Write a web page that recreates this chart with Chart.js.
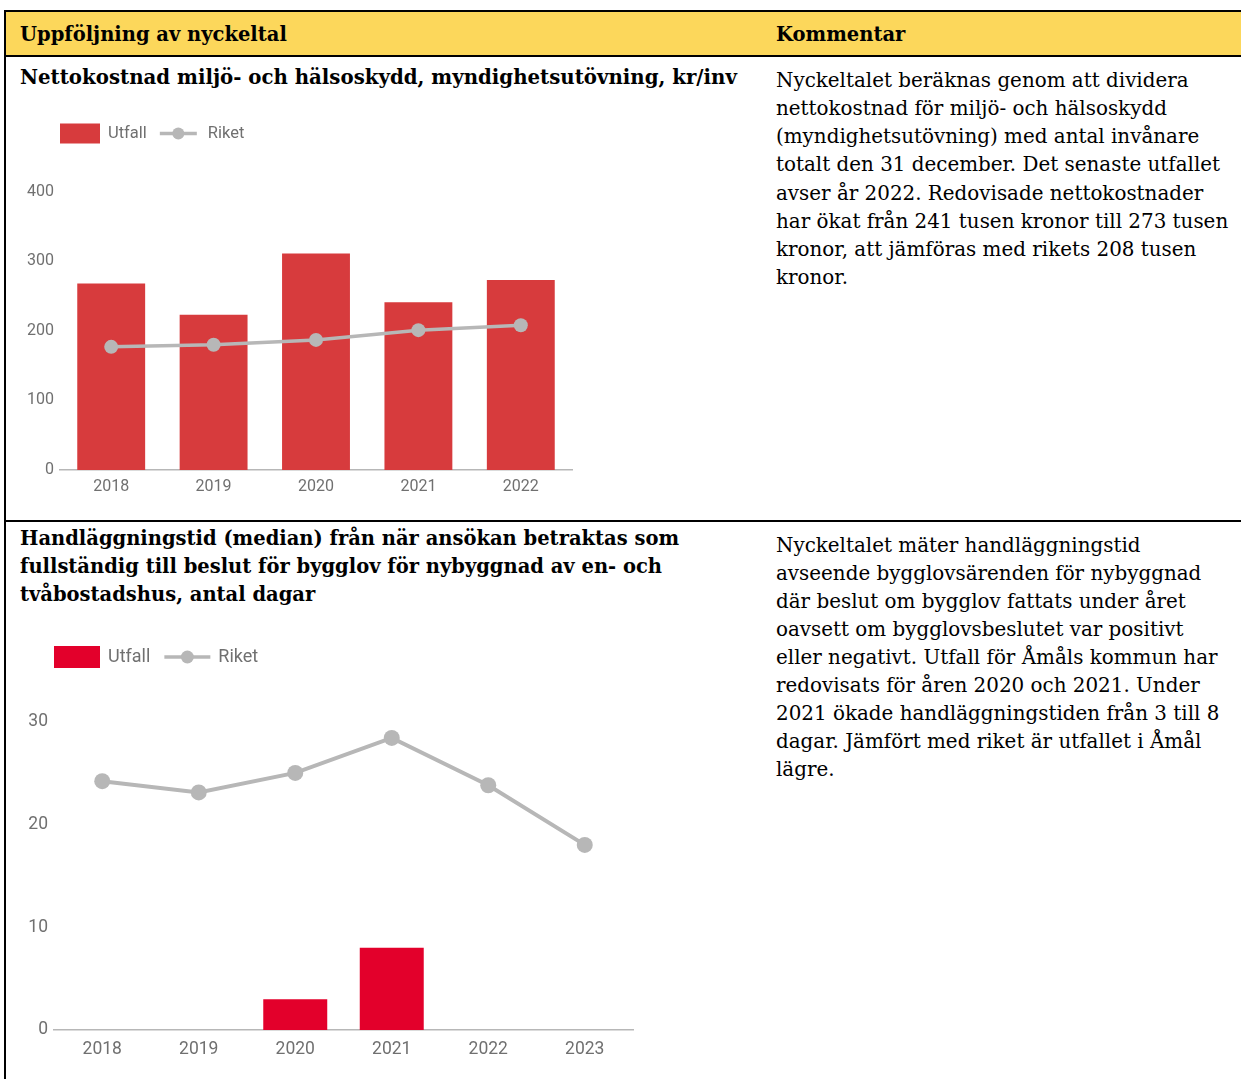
<!DOCTYPE html>
<html lang="sv">
<head>
<meta charset="utf-8">
<title>Uppföljning av nyckeltal</title>
<script src="https://cdn.jsdelivr.net/npm/chart.js@4/dist/chart.umd.min.js"></script>
<style>
  html, body { margin: 0; padding: 0; background: #fff; }
  body { position: relative; width: 1241px; height: 1079px; overflow: hidden;
         font-family: "DejaVu Serif", serif; color: #000; }
  .rule { position: absolute; background: #000; z-index: 2; }
  .head { position: absolute; left: 6px; top: 12px; width: 1235px; height: 43px; background: #fcd75b; }
  .txt { position: absolute; white-space: nowrap; font-size: 19.9px; line-height: 28.2px; z-index: 3; }
  .b { font-weight: bold; font-size: 19.5px; }
  canvas { position: absolute; left: 0; z-index: 1; }
</style>
</head>
<body>
<div class="head"></div>
<div class="rule" style="left:4px; top:10px; width:1237px; height:2px"></div>
<div class="rule" style="left:4px; top:10px; width:2px; height:1069px"></div>
<div class="rule" style="left:4px; top:55px; width:1237px; height:2px"></div>
<div class="rule" style="left:4px; top:520px; width:1237px; height:2px"></div>

<div class="txt b" style="left:20px; top:21px">Uppföljning av nyckeltal</div>
<div class="txt b" style="left:776px; top:21px">Kommentar</div>

<div class="txt b" style="left:20px; top:62.5px; font-size:19.75px">Nettokostnad miljö- och hälsoskydd, myndighetsutövning, kr/inv</div>
<div class="txt" style="left:776px; top:66.7px">Nyckeltalet beräknas genom att dividera<br>nettokostnad för miljö- och hälsoskydd<br>(myndighetsutövning) med antal invånare<br>totalt den 31 december. Det senaste utfallet<br>avser år 2022. Redovisade nettokostnader<br>har ökat från 241 tusen kronor till 273 tusen<br>kronor, att jämföras med rikets 208 tusen<br>kronor.</div>

<div class="txt b" style="left:20px; top:525px">Handläggningstid (median) från när ansökan betraktas som<br>fullständig till beslut för bygglov för nybyggnad av en- och<br>tvåbostadshus, antal dagar</div>
<div class="txt" style="left:776px; top:531.8px; line-height:28.05px">Nyckeltalet mäter handläggningstid<br>avseende bygglovsärenden för nybyggnad<br>där beslut om bygglov fattats under året<br>oavsett om bygglovsbeslutet var positivt<br>eller negativt. Utfall för Åmåls kommun har<br>redovisats för åren 2020 och 2021. Under<br>2021 ökade handläggningstiden från 3 till 8<br>dagar. Jämfört med riket är utfallet i Åmål<br>lägre.</div>

<canvas id="chart1" width="600" height="410" style="top:100px"></canvas>
<canvas id="chart2" width="660" height="459" style="top:620px"></canvas>

<script>
// Nettokostnad miljö- och hälsoskydd, kr/inv
const years1 = ['2018', '2019', '2020', '2021', '2022'];
const utfall1 = [268, 223, 311, 241, 273];
const riket1 = [177, 180, 187, 201, 208];
const yTicks1 = [0, 100, 200, 300, 400];

// Handläggningstid bygglov, antal dagar
const years2 = ['2018', '2019', '2020', '2021', '2022', '2023'];
const utfall2 = [null, null, 3, 8, null, null];
const riket2 = [24.2, 23.1, 25.0, 28.4, 23.8, 18.0];
const yTicks2 = [0, 10, 20, 30];

const GREY_TEXT = '#707070';
const GREY_LINE = '#b7b7b7';

Chart.defaults.font.family = 'Roboto';
Chart.defaults.color = GREY_TEXT;

// legend: red box + "Utfall", line-with-dot + "Riket", starting at the plot's left edge
const boxLegend = {
  id: 'boxLegend',
  afterDraw(chart, args, o) {
    const { ctx, chartArea } = chart;
    const [bars, line] = chart.data.datasets;
    let x = chartArea.left;
    const y = o.y;
    ctx.save();
    ctx.font = o.fontSize + 'px Roboto';
    ctx.textBaseline = 'middle';
    ctx.fillStyle = bars.backgroundColor;
    ctx.fillRect(x, y - o.boxH / 2, o.boxW, o.boxH);
    x += o.boxW + o.gap;
    ctx.fillStyle = GREY_TEXT;
    ctx.fillText(bars.label, x, y);
    x += ctx.measureText(bars.label).width + o.space;
    ctx.strokeStyle = line.borderColor;
    ctx.lineWidth = 3.5;
    ctx.beginPath();
    ctx.moveTo(x, y);
    ctx.lineTo(x + o.lineW, y);
    ctx.stroke();
    ctx.beginPath();
    ctx.arc(x + o.lineW / 2, y, o.dot, 0, Math.PI * 2);
    ctx.fillStyle = line.borderColor;
    ctx.fill();
    x += o.lineW + o.gap2;
    ctx.fillStyle = GREY_TEXT;
    ctx.fillText(line.label, x, y);
    ctx.restore();
  }
};

function makeChart(id, s) {
  return new Chart(document.getElementById(id), {
    type: 'bar',
    data: {
      labels: s.labels,
      datasets: [
        {
          label: 'Utfall',
          data: s.utfall,
          backgroundColor: s.barColor,
          barPercentage: 0.663,
          categoryPercentage: 1,
          order: 1
        },
        {
          type: 'line',
          label: 'Riket',
          data: s.riket,
          borderColor: GREY_LINE,
          backgroundColor: GREY_LINE,
          pointBackgroundColor: GREY_LINE,
          pointBorderWidth: 0,
          pointRadius: s.pointRadius,
          borderWidth: s.lineWidth,
          order: 0
        }
      ]
    },
    options: {
      responsive: false,
      animation: false,
      layout: { padding: { top: s.top, right: s.right, bottom: 0, left: 0 } },
      plugins: {
        legend: { display: false },
        tooltip: { enabled: false },
        boxLegend: s.legend
      },
      scales: {
        x: {
          grid: { display: false, drawTicks: false },
          border: { display: true, color: GREY_LINE, width: 1.5 },
          ticks: { padding: s.xPad, font: { size: s.fontSize } },
          afterFit(scale) { scale.height = s.xHeight; }
        },
        y: {
          min: s.ticks[0],
          max: s.ticks[s.ticks.length - 1],
          grid: { display: false, drawTicks: false },
          border: { display: false },
          ticks: { padding: 6, font: { size: s.fontSize } },
          afterBuildTicks(scale) { scale.ticks = s.ticks.map(v => ({ value: v })); },
          afterFit(scale) { scale.width = s.yWidth; }
        }
      }
    },
    plugins: [boxLegend]
  });
}

makeChart('chart1', {
  labels: years1, utfall: utfall1, riket: riket1, ticks: yTicks1,
  barColor: '#d73b3d', pointRadius: 7, lineWidth: 3.5,
  top: 91.7, right: 28, yWidth: 60, xHeight: 40, xPad: 7, fontSize: 16,
  legend: { y: 33.5, fontSize: 16.5, boxW: 40, boxH: 20, gap: 8, space: 13, lineW: 37, gap2: 11, dot: 6 }
});

makeChart('chart2', {
  labels: years2, utfall: utfall2, riket: riket2, ticks: yTicks2,
  barColor: '#e3002b', pointRadius: 8, lineWidth: 4,
  top: 101.5, right: 27, yWidth: 54, xHeight: 49, xPad: 9, fontSize: 17.5,
  legend: { y: 37, fontSize: 18, boxW: 46, boxH: 22, gap: 8, space: 14, lineW: 46, gap2: 8, dot: 6.5 }
});
</script>
</body>
</html>
